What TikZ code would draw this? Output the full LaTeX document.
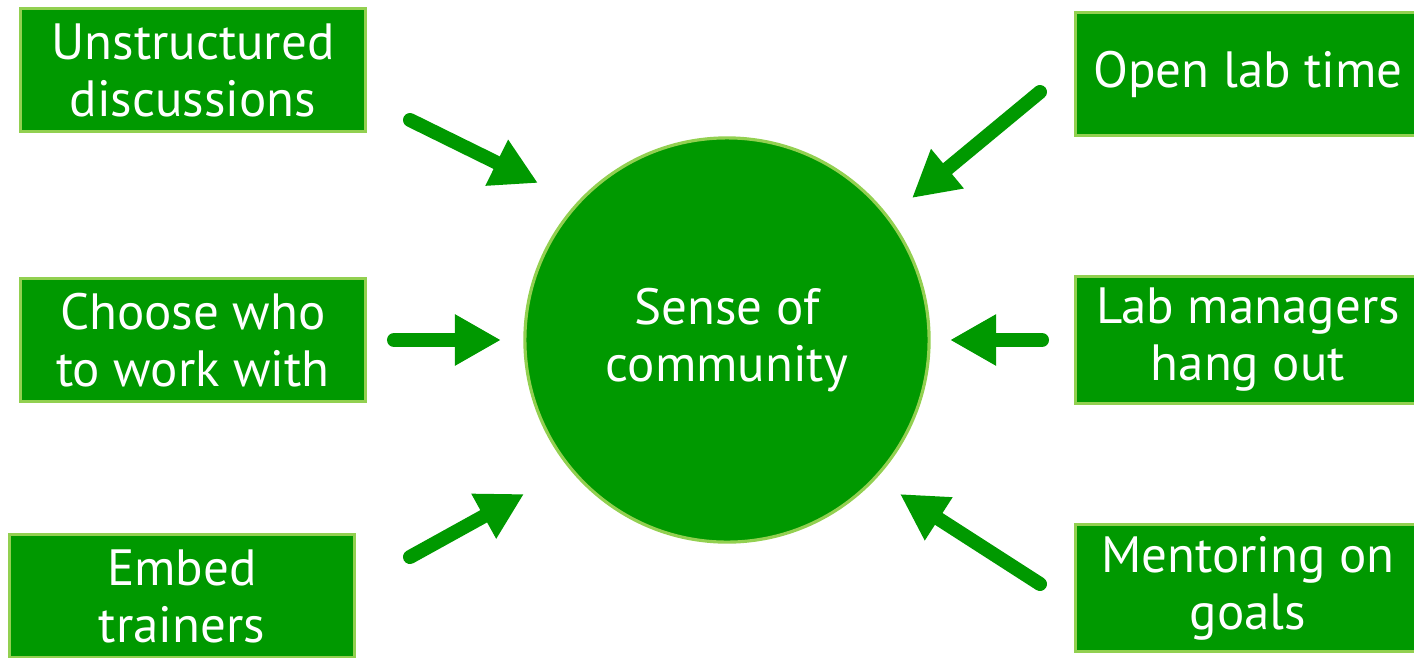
\documentclass[tikz,border=0pt]{standalone}
\usepackage{fontspec}
\setmainfont{PT Sans}
\usetikzlibrary{arrows.meta, positioning}
\definecolor{leafgreen}{HTML}{009900}
\definecolor{limeedge}{HTML}{92D050}

\begin{document}
\begin{tikzpicture}[
    x=0.01cm, y=-0.01cm,
    every node/.style={text=white, font=\fontsize{14.5}{16.2}\selectfont, align=center},
    box/.style={rectangle, draw=limeedge, line width=0.9pt, fill=leafgreen, minimum width=3.45cm, minimum height=1.23cm},
    hub/.style={circle, draw=limeedge, line width=0.9pt, fill=leafgreen, minimum size=4.04cm},
    arrow/.style={-{Triangle[length=4.6mm, width=4.8mm]}, line width=0.14cm, line cap=round, draw=leafgreen}
]
\useasboundingbox (0,0) rectangle (1414,657);

\node[hub] (c) at (727,340) {Sense of\\community};
\node[box] (1) at (193,70) {Unstructured\\discussions};
\node[box] (2) at (193,340) {Choose who\\to work with};
\node[box] (3) at (182,596) {Embed\\trainers};
\node[box] (4) at (1248,74) {Open lab time};
\node[box] (5) at (1248,340) {Lab managers\\hang out};
\node[box] (6) at (1248,588) {Mentoring on\\goals};

\coordinate (t1) at (410,120);
\coordinate (h1) at (538,183);
\coordinate (t2) at (394,340);
\coordinate (h2) at (501,340);
\coordinate (t3) at (410,557);
\coordinate (h3) at (524,494);
\coordinate (t4) at (1040,92);
\coordinate (h4) at (912,198);
\coordinate (t5) at (1042,340);
\coordinate (h5) at (950,340);
\coordinate (t6) at (1040,584);
\coordinate (h6) at (900,494);

\draw[arrow] (t1) -- (h1);
\draw[arrow] (t2) -- (h2);
\draw[arrow] (t3) -- (h3);
\draw[arrow] (t4) -- (h4);
\draw[arrow] (t5) -- (h5);
\draw[arrow] (t6) -- (h6);
\end{tikzpicture}
\end{document}
